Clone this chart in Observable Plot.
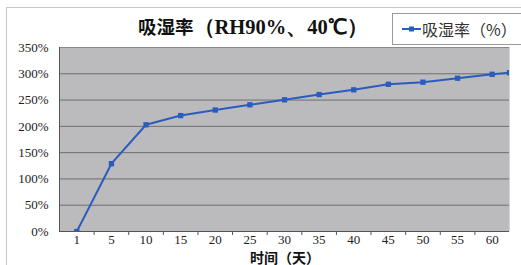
<!DOCTYPE html>
<html><head><meta charset="utf-8">
<script src="https://cdn.jsdelivr.net/npm/d3@7"></script>
<script src="https://cdn.jsdelivr.net/npm/@observablehq/plot@0.6"></script>
<style>
body{margin:0;background:#fff;}
#wrap{position:relative;width:521px;height:265px;overflow:hidden;}
#frame{position:absolute;left:6px;top:7px;width:530px;height:270px;border-left:1.5px solid #c8c8c8;border-top:1.5px solid #c8c8c8;}
#title{position:absolute;left:138px;top:12px;font-weight:bold;color:#111;white-space:nowrap;line-height:28px;}
#title .cjk{font-family:"Noto Sans CJK SC";font-size:18.5px;}
#title .ser{font-family:"Liberation Serif",serif;font-size:20.5px;}
#legend{position:absolute;left:392px;top:13px;width:140px;height:30px;border:1px solid #9a9a9a;background:#fff;}
#legend svg{position:absolute;left:9px;top:9px;}
#legend span{position:absolute;left:29px;top:3px;font-family:"Noto Sans CJK SC";font-size:16px;color:#333;white-space:nowrap;}
#xlabel{position:absolute;left:0;width:570px;top:249.5px;line-height:14px;text-align:center;font-family:"Noto Sans CJK SC";font-weight:bold;font-size:14px;color:#111;}
#chart{position:absolute;left:0;top:0;}
</style></head>
<body><div id="wrap"><div id="frame"></div><div id="chart"></div>
<div id="title"></div><div id="legend"></div><div id="xlabel"></div></div>
<script>
const titleMain = "吸湿率";
const titleSub = "（RH90%、40℃）";
const seriesName = "吸湿率（%）";
const xTitle = "时间（天）";
const days = [1, 5, 10, 15, 20, 25, 30, 35, 40, 45, 50, 55, 60];
const absorption = [0, 1.29, 2.03, 2.205, 2.31, 2.41, 2.505, 2.605, 2.695, 2.80, 2.84, 2.915, 2.99];
const tailValue = 3.02; // line continues to the plot's right edge
const yTicks = [0, 0.5, 1, 1.5, 2, 2.5, 3, 3.5];

const blue = "#2a5cbf";
const idx = days.map((d, i) => i);
const pts = idx.map(i => ({x: i, y: absorption[i]}));
const lineData = [...pts, {x: days.length - 0.5, y: tailValue}];

document.getElementById("title").innerHTML = `<span class="cjk">${titleMain}</span><span class="ser">${titleSub}</span>`;
document.getElementById("legend").innerHTML = `<svg width="20" height="12"><line x1="0" y1="6" x2="19" y2="6" stroke="${blue}" stroke-width="2"/><rect x="7" y="3.5" width="5" height="5" fill="${blue}"/></svg><span>${seriesName}</span>`;
document.getElementById("xlabel").textContent = xTitle;

const chart = Plot.plot({
  width: 521, height: 265,
  marginLeft: 59, marginRight: 12, marginTop: 47, marginBottom: 34,
  style: {fontFamily: "'Liberation Serif', serif", fontSize: "13px", color: "#222", background: "transparent"},
  x: {type: "linear", domain: [-0.5, days.length - 0.5]},
  y: {domain: [0, 3.5]},
  marks: [
    Plot.frame({fill: "#bbbbbd", stroke: "none"}),
    Plot.ruleY(yTicks.slice(1, -1), {stroke: "#6e6e6e", strokeWidth: 1}),
    Plot.ruleY([3.5], {stroke: "#8a8a8a", strokeWidth: 1}),
    Plot.ruleX([days.length - 0.5], {stroke: "#d5d5d5", strokeWidth: 1}),
    Plot.ruleX([-0.5], {stroke: "#555", strokeWidth: 1}),
    Plot.ruleY([0], {stroke: "#555", strokeWidth: 1}),
    Plot.axisY({ticks: yTicks, tickFormat: d => Math.round(d * 100) + "%", tickSize: 0, tickPadding: 11, label: null}),
    Plot.axisX({ticks: idx, tickFormat: i => days[i], tickSize: 0, tickPadding: 3, label: null}),
    Plot.axisX({ticks: idx.slice(0, -1).map(i => i + 0.5), tickFormat: () => "", tickSize: 4, stroke: "#555", label: null}),
    Plot.line(lineData, {x: "x", y: "y", stroke: blue, strokeWidth: 2, clip: "frame"}),
    Plot.dot(lineData, {x: "x", y: "y", symbol: "square", r: 3, fill: blue, stroke: "none", clip: "frame"})
  ]
});
document.getElementById("chart").appendChild(chart);
</script></body></html>
